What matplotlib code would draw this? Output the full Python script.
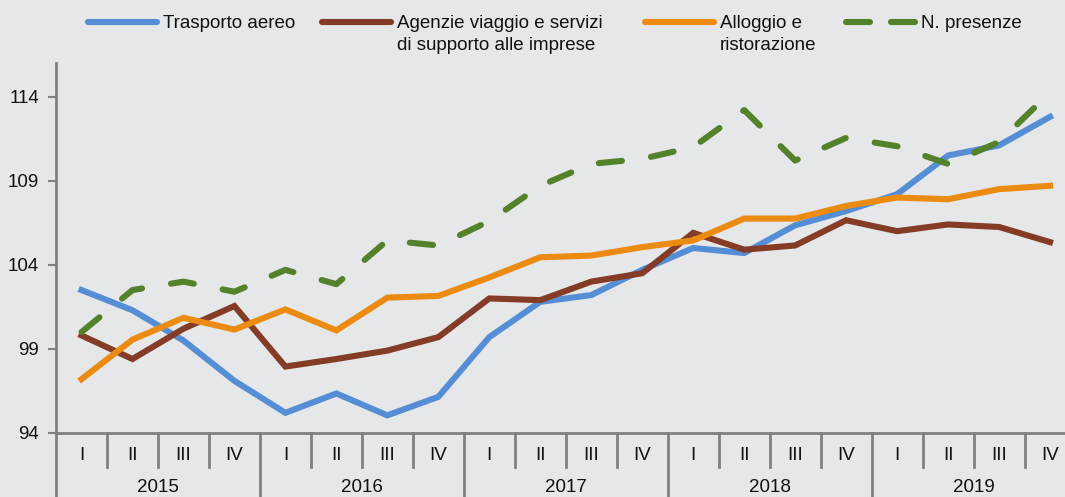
import matplotlib
matplotlib.use('Agg')
import matplotlib.pyplot as plt
import matplotlib.transforms as mtransforms
from matplotlib.lines import Line2D

plt.rcParams['font.family'] = ['Liberation Sans', 'DejaVu Sans']

# Dati trimestrali 2015-2019 (indici)
anni = ['2015', '2016', '2017', '2018', '2019']
trimestri = ['I', 'II', 'III', 'IV']

trasporto_aereo = [102.5, 101.3, 99.5, 97.1, 95.2, 96.35, 95.05, 96.15, 99.7, 101.8,
                   102.2, 103.7, 105.0, 104.7, 106.35, 107.2, 108.2, 110.5, 111.1, 112.8]
agenzie_viaggio = [99.8, 98.4, 100.2, 101.55, 97.95, 98.4, 98.9, 99.7, 102.0, 101.9,
                   103.0, 103.5, 105.9, 104.9, 105.15, 106.65, 106.0, 106.4, 106.25, 105.35]
alloggio = [97.2, 99.55, 100.85, 100.15, 101.35, 100.1, 102.05, 102.15, 103.25, 104.45,
            104.55, 105.05, 105.45, 106.75, 106.75, 107.5, 108.0, 107.9, 108.5, 108.7]
presenze = [100.0, 102.5, 103.0, 102.4, 103.7, 102.85, 105.45, 105.15, 106.6, 108.7,
            110.0, 110.3, 111.0, 113.2, 110.2, 111.55, 111.05, 110.0, 111.3, 114.25]

serie = [
    ('Trasporto aereo', trasporto_aereo, '#558ed5', '-'),
    ('Agenzie viaggio e servizi\ndi supporto alle imprese', agenzie_viaggio, '#843c27', '-'),
    ('Alloggio e\nristorazione', alloggio, '#ec8b12', '-'),
    ('N. presenze', presenze, '#53822b', '--'),
]

bg = '#e6e7e9'
grigio = '#808080'
testo = '#111111'
W, H = 1065, 497
LW = 4.4

fig = plt.figure(figsize=(W / 100, H / 100), dpi=100, facecolor=bg)
ax = fig.add_axes([56 / W, (H - 433) / H, 1 - 56 / W, (433 - 63) / H], facecolor=bg)

x = list(range(len(anni) * len(trimestri)))
for nome, vals, col, ls in serie:
    if ls == '--':
        ax.plot(x, vals, color=col, lw=LW, linestyle=(0, (3.8, 4.8)),
                dash_capstyle='round', dash_joinstyle='round')
    else:
        ax.plot(x, vals, color=col, lw=LW, solid_joinstyle='miter')

ax.set_ylim(94, 116)
ax.set_yticks([94, 99, 104, 109, 114])
ax.set_xlim(-0.5, (W - 82) / 50.95)

for s in ['top', 'right']:
    ax.spines[s].set_visible(False)
for s in ['left', 'bottom']:
    ax.spines[s].set_color(grigio)
    ax.spines[s].set_linewidth(2)

ax.tick_params(axis='y', direction='out', length=6, width=1.5, color=grigio,
               labelsize=13.5, labelcolor=testo, pad=6)
ax.set_xticks([])

# Etichette dei trimestri e degli anni sotto l'asse
trans = mtransforms.blended_transform_factory(ax.transData, ax.transAxes)
y_q = -22 / 370
y_a = -55 / 370
y_sep = -34 / 370
y_fondo = -64 / 370
for i, anno in enumerate(anni):
    for j, q in enumerate(trimestri):
        k = i * 4 + j
        ax.text(k, y_q, q, transform=trans, ha='center', va='center',
                fontsize=13.5, color=testo)
        if j > 0:
            ax.plot([k - 0.5, k - 0.5], [0, y_sep], transform=trans, color=grigio,
                    lw=2, clip_on=False)
    ax.plot([i * 4 - 0.5, i * 4 - 0.5], [0, y_fondo], transform=trans, color=grigio,
            lw=2, clip_on=False)
    ax.text(i * 4 + 1.5, y_a, anno, transform=trans, ha='center', va='center',
            fontsize=13.5, color=testo)

# Legenda in alto
def px(xp, yp):
    return xp / W, 1 - yp / H

legenda_x = [(88, 157, 163), (322, 391, 397), (645, 714, 720), (846, 915, 921)]
for (x0, x1, xt), (nome, vals, col, ls) in zip(legenda_x, serie):
    (fx0, fy), (fx1, _) = px(x0, 22), px(x1, 22)
    if ls == '--':
        seg = (x1 - x0 - 21) / 2
        for a in (x0, x1 - seg):
            fig.add_artist(Line2D([px(a, 0)[0], px(a + seg, 0)[0]], [fy, fy],
                                  color=col, lw=LW, solid_capstyle='round'))
    else:
        fig.add_artist(Line2D([fx0, fx1], [fy, fy], color=col, lw=LW,
                              solid_capstyle='round'))
    for r, riga in enumerate(nome.split('\n')):
        tx, ty = px(xt, 28 + 22 * r)
        fig.text(tx, ty, riga, ha='left', va='baseline', fontsize=13.5, color=testo)

fig.savefig('out.png', dpi=100, facecolor=bg)
